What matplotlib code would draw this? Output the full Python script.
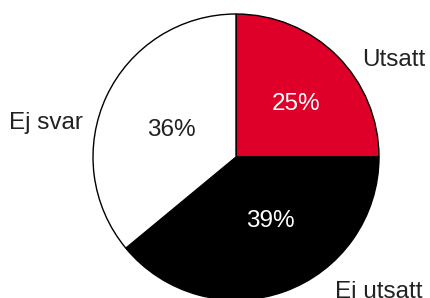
import matplotlib
matplotlib.use("Agg")
import matplotlib.pyplot as plt

labels = ["Utsatt", "Ei utsatt", "Ej svar"]
values = [25, 39, 36]
colors = ["#DE0029", "#000000", "#FFFFFF"]
pct_colors = ["white", "white", "#222222"]

plt.rcParams["font.family"] = ["Liberation Sans", "DejaVu Sans"]

W, H = 430, 298
fig = plt.figure(figsize=(W / 100, H / 100), dpi=100)
ax = fig.add_axes([0, 0, 1, 1])
ax.set_xlim(0, W)
ax.set_ylim(0, H)
ax.set_aspect("equal")
ax.axis("off")

cx, cy, r = 236, H - 157, 143
wedges, texts, autotexts = ax.pie(
    values, colors=colors, startangle=90, counterclock=False,
    center=(cx, cy), radius=r, autopct="%.0f%%", pctdistance=0.53,
    wedgeprops=dict(edgecolor="black", linewidth=1.0),
    textprops=dict(fontsize=17.5),
)
# nudge percentages to where the reference has them
pct_pos = [(296, 104), (270, 221), (171, 130)]
for t, c, (x, y) in zip(autotexts, pct_colors, pct_pos):
    t.set_color(c)
    t.set_position((x, H - y))

# outside labels, placed by baseline
label_pos = [(394, 66), (379, 298), (46, 129)]
for lab, (x, y) in zip(labels, label_pos):
    ax.text(x, H - y, lab, fontsize=17.5, ha="center", va="baseline", color="#222222")

ax.set_xlim(0, W)
ax.set_ylim(0, H)
fig.savefig("out.png", dpi=100)
